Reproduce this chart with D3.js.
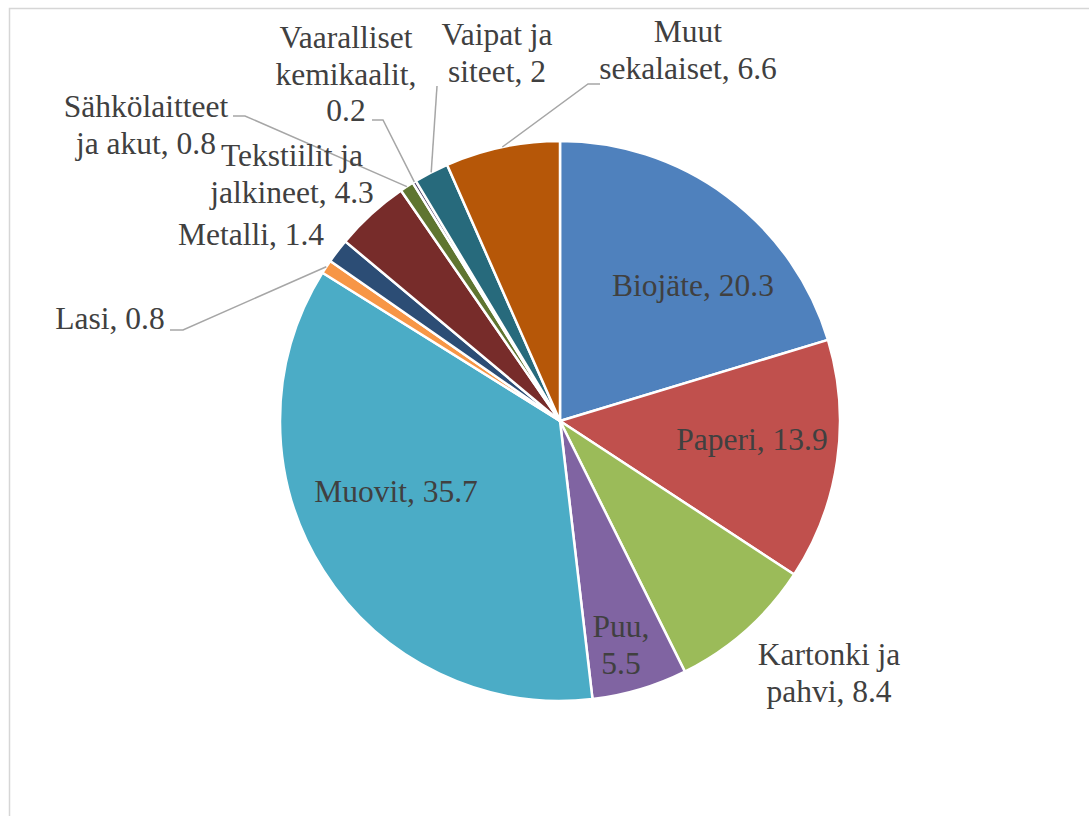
<!DOCTYPE html>
<html>
<head>
<meta charset="utf-8">
<script src="https://cdn.jsdelivr.net/npm/d3@7"></script>
<style>
  html, body { margin: 0; padding: 0; background: #fff; }
  svg { display: block; }
  .lbl { font-family: 'Liberation Serif', Tinos, 'Times New Roman', Times, 'DejaVu Serif', serif; }
</style>
</head>
<body>
<div id="chart"></div>
<script>
// data
const categories = ['Biojäte', 'Paperi', 'Kartonki ja pahvi', 'Puu', 'Muovit', 'Lasi', 'Metalli',
    'Tekstiilit ja jalkineet', 'Sähkölaitteet ja akut', 'Vaaralliset kemikaalit', 'Vaipat ja siteet', 'Muut sekalaiset'];
const values = [20.3, 13.9, 8.4, 5.5, 35.7, 0.8, 1.4, 4.3, 0.8, 0.2, 2, 6.6];
const colors = ['#4f81bd', '#c0504d', '#9bbb59', '#8064a2', '#4bacc6', '#f79646', '#2c4d75',
    '#772c2a', '#5f7530', '#4d3b62', '#276a7c', '#b65708'];

// how Excel wrapped each label
const labelLines = [
    ['Biojäte, 20.3'],
    ['Paperi, 13.9'],
    ['Kartonki ja', 'pahvi, 8.4'],
    ['Puu,', '5.5'],
    ['Muovit, 35.7'],
    ['Lasi, 0.8'],
    ['Metalli, 1.4'],
    ['Tekstiilit ja', 'jalkineet, 4.3'],
    ['Sähkölaitteet', 'ja akut, 0.8'],
    ['Vaaralliset', 'kemikaalit,', '0.2'],
    ['Vaipat ja', 'siteet, 2'],
    ['Muut', 'sekalaiset, 6.6']
];

// label layout: centre x, first baseline
const labelAt = [
    [693, 296], [752, 450], [829, 665], [621, 637], [396, 502], [110, 329],
    [251, 245], [292, 166], [146, 117], [346, 48], [497, 45], [688, 42]
];
// leader start [x, y, elbow length] or null
const leaderFrom = [null, null, null, null, null, [170, 330, 13], null, null,
    [233, 116, 12], [372, 120, 11], [437, 86, 0], [600, 84, -12]];

const width = 1089;
const height = 816;
const cx = 560;
const cy = 421;
const radius = 280;
const fontSize = 31.5;
const lineHeight = 36.5;

const svg = d3.select('#chart')
    .append('svg')
    .attr('width', width)
    .attr('height', height);

// chart frame
svg.append('rect')
    .attr('x', 9.5)
    .attr('y', 8.5)
    .attr('width', width + 20)
    .attr('height', height + 20)
    .attr('fill', '#fff')
    .attr('stroke', '#d6d6d6')
    .attr('stroke-width', 1.5);

const rows = categories.map((c, i) => ({ name: c, value: values[i], i }));

const pie = d3.pie()
    .sort(null)
    .value(d => d.value);

const arc = d3.arc()
    .innerRadius(0)
    .outerRadius(radius);

const arcs = pie(rows);

const g = svg.append('g')
    .attr('transform', `translate(${cx},${cy})`);

g.selectAll('path')
    .data(arcs)
    .enter()
    .append('path')
    .attr('d', arc)
    .attr('fill', d => colors[d.data.i])
    .attr('stroke', '#fff')
    .attr('stroke-width', 2.5)
    .attr('stroke-linejoin', 'round');

// leader lines
arcs.forEach(d => {
    const lf = leaderFrom[d.data.i];
    if (!lf) return;
    const mid = (d.startAngle + d.endAngle) / 2;
    const ex = cx + radius * Math.sin(mid);
    const ey = cy - radius * Math.cos(mid);
    const pts = [[lf[0], lf[1]]];
    if (lf[2]) pts.push([lf[0] + lf[2], lf[1]]);
    pts.push([ex, ey]);
    svg.append('path')
        .attr('d', d3.line()(pts))
        .attr('fill', 'none')
        .attr('stroke', '#a6a6a6')
        .attr('stroke-width', 1.5);
});

// labels
rows.forEach(d => {
    const [x, y] = labelAt[d.i];
    const t = svg.append('text')
        .attr('class', 'lbl')
        .attr('text-anchor', 'middle')
        .style('font-size', fontSize + 'px')
        .style('fill', '#404040');
    labelLines[d.i].forEach((line, k) => {
        t.append('tspan')
            .attr('x', x)
            .attr('y', y + k * lineHeight)
            .text(line);
    });
});
</script>
</body>
</html>
